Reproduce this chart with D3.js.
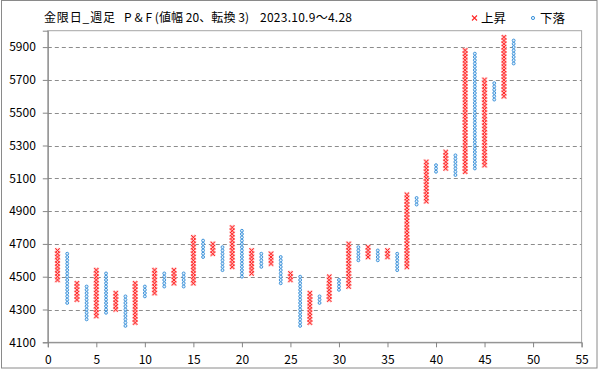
<!DOCTYPE html>
<html><head><meta charset="utf-8">
<script src="https://cdn.jsdelivr.net/npm/d3@7"></script>
<style>
html,body{margin:0;padding:0;background:#fff;}
svg{display:block;font-family:"Noto Sans CJK JP","Liberation Sans",sans-serif;}
</style></head>
<body>
<svg id="c" width="599" height="369"></svg>
<script>
// ---- data ----
const titleParts = ["金限日_週足", "P & F (値幅 20、転換 3)", "2023.10.9～4.28"];
const legendLabels = ["上昇", "下落"];
const boxSize = 20;
const columnIndex = d3.range(1, 49);
const columnType = ["X","O","X","O","X","O","X","O","X","O",
                    "X","O","X","O","X","O","X","O","X","O",
                    "X","O","X","O","X","O","X","O","X","O",
                    "X","O","X","O","X","O","X","O","X","O",
                    "X","O","X","O","X","O","X","O"];
const columnLow  = [4480,4340,4360,4240,4260,4280,4300,4200,4220,4380,
                    4400,4440,4460,4440,4460,4620,4640,4540,4560,4500,
                    4520,4560,4580,4460,4480,4200,4220,4340,4360,4420,
                    4440,4600,4620,4600,4620,4540,4560,4940,4960,5140,
                    5160,5120,5140,5160,5180,5580,5600,5800];
const columnHigh = [4660,4640,4460,4440,4540,4520,4400,4380,4460,4440,
                    4540,4520,4540,4520,4740,4720,4700,4680,4800,4780,
                    4660,4640,4640,4620,4520,4500,4400,4380,4500,4480,
                    4700,4680,4680,4660,4660,4640,5000,4980,5200,5180,
                    5260,5240,5880,5860,5700,5680,5960,5940];
const xTicks = d3.range(0, 56, 5);
const yTicks = d3.range(4100, 6000, 200);

// ---- chart ----
const svg = d3.select("#c");
const x = d3.scaleLinear().domain([0, 55]).range([47.8, 581.6]);
const y = d3.scaleLinear().domain([4100, 6000]).range([342.3, 30.7]);
const gray = "#8c8c8c";
const red = "#ff2626", pink = "#ffb8b8", blue = "#2f8ad6", lightBlue = "#e4f1fc";

svg.append("rect").attr("x",1.5).attr("y",0.5).attr("width",595.5).attr("height",367.5)
  .attr("fill","#fff").attr("stroke","#8a8a8a");

// plot frame
svg.append("rect").attr("x",x(0)).attr("y",y(6000)).attr("width",x(55)-x(0)).attr("height",y(4100)-y(6000))
  .attr("fill","none").attr("stroke","#a6a6a6");

// gridlines
svg.append("g").selectAll("line").data(yTicks.filter(v => v > 4100)).join("line")
  .attr("x1",x(0)).attr("x2",x(55)).attr("y1",d=>Math.round(y(d))+0.5).attr("y2",d=>Math.round(y(d))+0.5)
  .attr("stroke",gray).attr("stroke-dasharray","4,3");

// axes
const yAxis = svg.append("g").attr("transform",`translate(${x(0)},0)`)
  .call(d3.axisLeft(y).tickValues(yTicks).tickSize(5).tickPadding(7).tickFormat(d3.format("d")));
const xAxis = svg.append("g").attr("transform",`translate(0,${y(4100)})`)
  .call(d3.axisBottom(x).tickValues(xTicks).tickSize(5).tickPadding(8).tickFormat(d3.format("d")));
[yAxis, xAxis].forEach(g => {
  g.select(".domain").attr("stroke","#868686");
  g.selectAll(".tick line").attr("stroke","#868686");
  g.selectAll("text").attr("fill","#000").style("font-size","12px")
    .style("font-family","'Noto Sans CJK JP','Liberation Sans',sans-serif");
});

// boxes
const boxes = [];
columnIndex.forEach((c, i) => {
  d3.range(columnLow[i], columnHigh[i] + 1, boxSize).forEach(v => boxes.push({c, v, t: columnType[i]}));
});
const xBoxes = boxes.filter(b => b.t === "X");
const gh = svg.append("g");
gh.selectAll("path").data(xBoxes).join("path")
  .attr("transform", b => `translate(${x(b.c)},${y(b.v)})`)
  .attr("d","M-2.2,-2.2L2.2,2.2M2.2,-2.2L-2.2,2.2")
  .attr("stroke",pink).attr("stroke-width",2.4).attr("fill","none");
const gx = svg.append("g");
gx.selectAll("path").data(xBoxes).join("path")
  .attr("transform", b => `translate(${x(b.c)},${y(b.v)})`)
  .attr("d","M-2.2,-2.2L2.2,2.2M2.2,-2.2L-2.2,2.2")
  .attr("stroke",red).attr("stroke-width",1).attr("fill","none");
const go = svg.append("g");
go.selectAll("circle").data(boxes.filter(b => b.t === "O")).join("circle")
  .attr("cx", b => x(b.c)).attr("cy", b => y(b.v)).attr("r",1.45)
  .attr("fill",lightBlue).attr("stroke",blue).attr("stroke-width",0.9);

// title
const titleX = [44, 124, 260], titleW = [71, 125, 92];
titleParts.forEach((t, i) => {
  svg.append("text").attr("x",titleX[i]).attr("y",22).text(t)
    .attr("textLength",titleW[i]).attr("lengthAdjust","spacing")
    .style("font-size","12px").attr("fill","#000");
});

// legend
const lg = svg.append("g");
lg.append("path").attr("transform","translate(474.5,18)").attr("d","M-2.5,-2.5L2.5,2.5M2.5,-2.5L-2.5,2.5")
  .attr("stroke",red).attr("stroke-width",1.1);
lg.append("text").attr("x",481).attr("y",22.5).text(legendLabels[0]).style("font-size","12.5px");
lg.append("circle").attr("cx",533).attr("cy",18).attr("r",1.6)
  .attr("fill",lightBlue).attr("stroke",blue).attr("stroke-width",0.9);
lg.append("text").attr("x",540).attr("y",22.5).text(legendLabels[1]).style("font-size","12.5px");
</script>
</body></html>
